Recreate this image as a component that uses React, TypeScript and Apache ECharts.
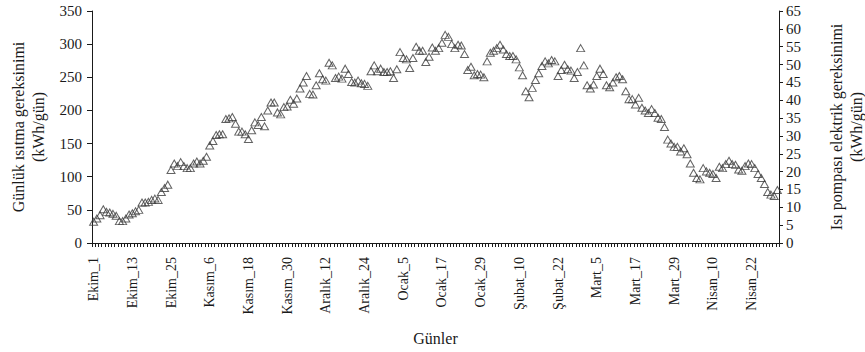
import React, { useEffect, useRef } from "react";
import * as echarts from "echarts";

// Heating season months (leap year February) and their lengths
const MONTHS: [string, number][] = [
  ["Ekim", 31],
  ["Kasım", 30],
  ["Aralık", 31],
  ["Ocak", 31],
  ["Şubat", 29],
  ["Mart", 31],
  ["Nisan", 30],
];

const DAYS: string[] = MONTHS.flatMap(([m, n]) =>
  Array.from({ length: n }, (_, k) => `${m}_${k + 1}`)
);

// Daily heating demand, kWh/day (Ekim_1 .. Nisan_30)
const HEAT_DEMAND: number[] = [
  32, 37, 42, 51, 47, 46, 44, 41, 33, 33,
  37, 43, 45, 48, 50, 61, 61, 62, 65, 67,
  65, 77, 83, 88, 110, 120, 116, 122, 116, 113,
  113, 120, 123, 120, 124, 130, 147, 154, 163, 164,
  164, 187, 188, 190, 180, 168, 168, 164, 157, 170,
  182, 178, 190, 176, 200, 212, 212, 197, 194, 205,
  206, 216, 210, 218, 233, 242, 252, 225, 224, 238,
  256, 247, 245, 272, 268, 249, 251, 248, 263, 255,
  243, 242, 245, 241, 240, 237, 259, 268, 259, 263,
  258, 258, 259, 249, 262, 288, 279, 277, 264, 279,
  296, 290, 290, 273, 281, 295, 290, 294, 302, 314,
  311, 300, 294, 299, 298, 285, 261, 266, 253, 255,
  254, 250, 274, 287, 290, 294, 299, 292, 285, 282,
  282, 277, 265, 253, 229, 220, 234, 246, 256, 267,
  274, 271, 276, 274, 252, 261, 269, 262, 260, 249,
  258, 294, 268, 238, 233, 239, 252, 263, 255, 238,
  235, 242, 250, 252, 247, 229, 217, 217, 209, 219,
  204, 200, 196, 202, 196, 189, 187, 175, 156, 150,
  145, 145, 138, 143, 134, 120, 106, 98, 96, 113,
  108, 106, 104, 98, 115, 113, 119, 124, 119, 118,
  111, 109, 116, 120, 119, 113, 104, 98, 89, 77,
  73, 71, 80,
];

const FONT = "'Liberation Serif', 'Times New Roman', serif";
const INK = "#1a1a1a";

export default function App() {
  const ref = useRef<HTMLDivElement>(null);

  useEffect(() => {
    if (!ref.current) return;
    const chart = echarts.init(ref.current, null, { renderer: "svg" });
    const axisLine = { show: true, lineStyle: { color: INK, width: 1 } };
    chart.setOption({
      animation: false,
      backgroundColor: "#fff",
      textStyle: { fontFamily: FONT, color: INK },
      grid: {
        left: 92,
        right: 86,
        top: 11,
        bottom: 109,
        containLabel: false,
        outerBoundsMode: "none",
      },
      xAxis: {
        type: "category",
        data: DAYS,
        boundaryGap: true,
        name: "Günler",
        nameLocation: "middle",
        nameGap: 87,
        nameTextStyle: { fontFamily: FONT, fontSize: 16, color: INK },
        axisLine,
        axisTick: { show: true, interval: 0, length: 4, lineStyle: { color: INK } },
        axisLabel: {
          interval: 11,
          rotate: 90,
          margin: 14,
          fontFamily: FONT,
          fontSize: 14,
          color: INK,
        },
        splitLine: { show: false },
      },
      yAxis: [
        {
          type: "value",
          min: 0,
          max: 350,
          interval: 50,
          position: "left",
          name: "Günlük ısıtma gereksinimi\n(kWh/gün)",
          nameLocation: "middle",
          nameRotate: 90,
          nameGap: 42,
          nameTextStyle: { fontFamily: FONT, fontSize: 16, color: INK, lineHeight: 20 },
          axisLine,
          axisTick: { show: true, length: 5, lineStyle: { color: INK } },
          axisLabel: { margin: 10, fontFamily: FONT, fontSize: 15, color: INK },
          splitLine: { show: false },
        },
        {
          type: "value",
          min: 0,
          max: 65,
          interval: 5,
          position: "right",
          name: "Isı pompası elektrik gereksinimi\n(kWh/gün)",
          nameLocation: "middle",
          nameRotate: 90,
          nameGap: 47,
          nameTextStyle: { fontFamily: FONT, fontSize: 16, color: INK, lineHeight: 20 },
          axisLine,
          axisTick: { show: true, length: 4, lineStyle: { color: INK } },
          axisLabel: { margin: 7, fontFamily: FONT, fontSize: 15, color: INK },
          splitLine: { show: false },
        },
      ],
      series: [
        {
          name: "Günlük ısıtma gereksinimi",
          type: "scatter",
          yAxisIndex: 0,
          data: HEAT_DEMAND,
          symbol: "triangle",
          symbolSize: [8, 7],
          itemStyle: {
            color: "rgba(255,255,255,0)",
            borderColor: "#3c3c3c",
            borderWidth: 1,
          },
        },
      ],
    });
    return () => chart.dispose();
  }, []);

  return (
    <div
      ref={ref}
      style={{ position: "absolute", left: 0, top: 0, width: 865, height: 352 }}
    />
  );
}
